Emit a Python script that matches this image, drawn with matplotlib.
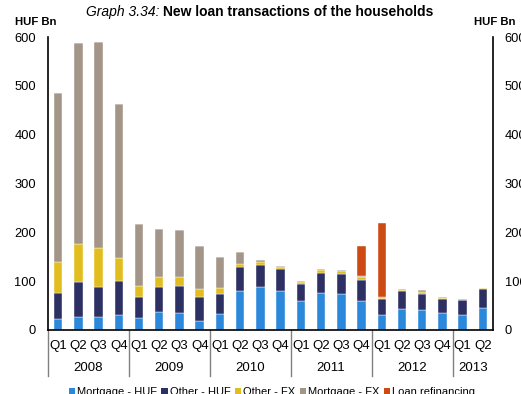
import numpy as np
import matplotlib
matplotlib.use('Agg')
import matplotlib.pyplot as plt
from matplotlib.patches import Patch
from matplotlib.lines import Line2D

plt.rcParams['font.family'] = ['Liberation Sans', 'DejaVu Sans']

# === DATA (HUF Bn) ===
quarters = ['Q1', 'Q2', 'Q3', 'Q4'] * 5 + ['Q1', 'Q2']
years = ['2008', '2009', '2010', '2011', '2012', '2013']
mortgage_huf = [22, 26, 26, 31, 24, 36, 35, 19, 32, 80, 88, 80,
                60, 76, 73, 60, 31, 43, 41, 34, 30, 45]
other_huf = [53, 73, 63, 69, 44, 53, 56, 48, 42, 48, 46, 44,
             34, 41, 41, 42, 33, 36, 33, 30, 31, 38]
other_fx = [65, 78, 78, 48, 22, 20, 18, 16, 12, 8, 6, 4,
            4, 5, 7, 7, 2, 3, 4, 2, 1, 2]
mortgage_fx = [345, 410, 423, 314, 128, 98, 96, 89, 64, 24, 4, 3,
               2, 3, 2, 2, 1, 2, 3, 2, 1.5, 1]
refinancing = [0] * 15 + [61, 152] + [0] * 5

series = [
    ('Mortgage - HUF', mortgage_huf, '#2B88DB'),
    ('Other - HUF', other_huf, '#2D3063'),
    ('Other - FX', other_fx, '#E2BD1F'),
    ('Mortgage - FX', mortgage_fx, '#A39689'),
    ('Loan refinancing', refinancing, '#CD4A14'),
]

# === PLOT ===
fig = plt.figure(figsize=(5.21, 3.94), dpi=100)
ax = fig.add_axes([48/521, 1 - 330/394, 445/521, 293/394])

x = np.arange(len(quarters))
bottom = np.zeros(len(quarters))
for name, vals, col in series:
    vals = np.array(vals, dtype=float)
    ax.bar(x, vals, 0.42, bottom=bottom, color=col, edgecolor='white',
           linewidth=0.3)
    bottom += vals

ax.set_xlim(-0.5, len(quarters) - 0.5)
ax.set_ylim(0, 600)
ax.set_yticks(range(0, 601, 100))
ax.set_xticks([])
ax.tick_params(axis='y', length=0, pad=8.5, labelsize=9.3,
               labelright=True, right=False)
for s in ['left', 'right', 'bottom']:
    ax.spines[s].set_linewidth(1.2)
ax.spines['top'].set_visible(False)

# two-level category labels
px = 600 / 293
for i, q in enumerate(quarters):
    ax.text(i, -15.5 * px, q, ha='center', va='center', fontsize=9.5)
for k, yr in enumerate(years):
    n = 4 if k < 5 else 2
    ax.text(4 * k + (n - 1) / 2, -38 * px, yr, ha='center',
            va='center', fontsize=9.5)
for k in range(6):
    xs = 4 * k - 0.5
    ax.add_line(Line2D([xs, xs], [0, -46 * px], color='#808080',
                       linewidth=1.0, clip_on=False))

# titles and unit labels
fig.text(160/521, 1 - 12/394, 'Graph 3.34:', style='italic', fontsize=10,
         ha='right', va='center')
fig.text(163/521, 1 - 12/394, 'New loan transactions of the households',
         fontweight='bold', fontsize=10, ha='left', va='center')
fig.text(15/521, 1 - 22/394, 'HUF Bn', fontweight='bold', fontsize=8.2,
         ha='left', va='center')
fig.text(474/521, 1 - 22/394, 'HUF Bn', fontweight='bold', fontsize=8.2,
         ha='left', va='center')

handles = [Patch(facecolor=c, edgecolor='none') for _, _, c in series]
labels = [n for n, _, _ in series]
fig.legend(handles, labels, loc='center', bbox_to_anchor=(272/521, 2/394),
           ncol=5, frameon=False, fontsize=8, handlelength=0.55,
           handleheight=0.55, handletextpad=0.2, columnspacing=0.4,
           borderpad=0)

plt.savefig('out.png', dpi=100)
